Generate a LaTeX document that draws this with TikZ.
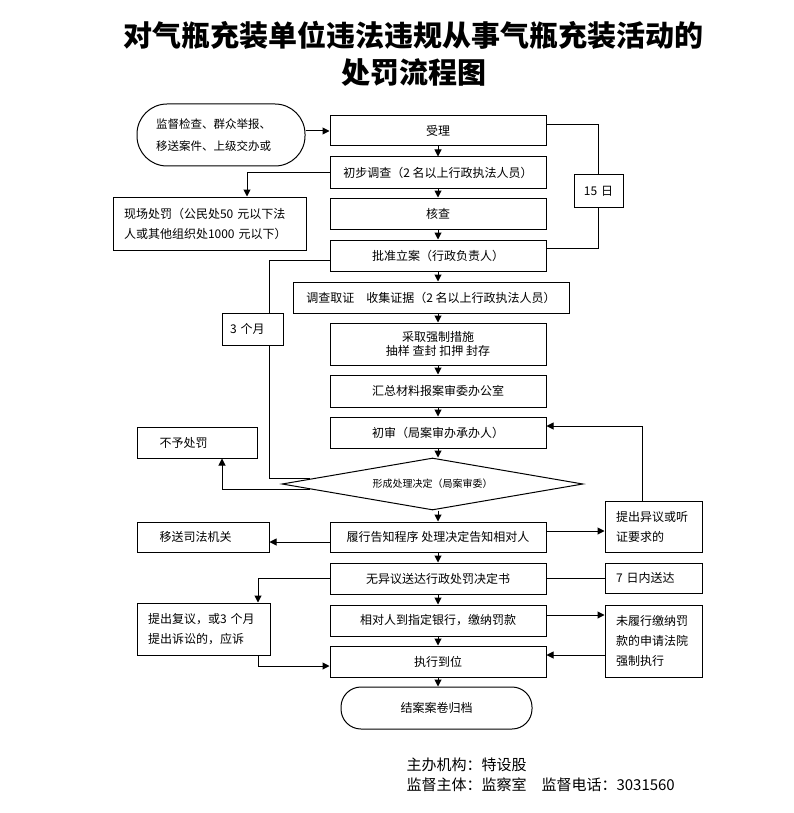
\documentclass[tikz,border=0pt]{standalone}
\usepackage{fontspec}
\setmainfont{Noto Sans CJK SC}
\usetikzlibrary{arrows.meta,shapes.geometric,calc}
\begin{document}
\begin{tikzpicture}[x=1pt,y=-1pt,
  every node/.style={font=\fontsize{12}{20}\selectfont},
  mbox/.style={draw, line width=1pt, minimum width=216pt, minimum height=31pt, inner sep=0pt, align=center},
  sbox/.style={draw, line width=1pt, inner ysep=0pt, align=left},
  link/.style={line width=1pt},
  arr/.style={line width=1pt, -{Triangle[length=7pt,width=7pt]}},
]
\fill[white] (0,0) rectangle (793,813);
\useasboundingbox (0,0) rectangle (793,813);

% title
\node[font=\fontsize{29}{37}\selectfont\bfseries, align=center] (title) at (413.5,53.5)
  {对气瓶充装单位违法违规从事气瓶充装活动的\\处罚流程图};

% main column
\node[mbox, minimum height=30pt] (acc) at (438,131) {受理};
\node[mbox] (init) at (438,172.5) {初步调查（2 名以上行政执法人员）};
\node[mbox] (check) at (438,213.5) {核查};
\node[mbox] (appr) at (438,255.5) {批准立案（行政负责人）};
\node[mbox, minimum width=276pt] (inv) at (431,297.5) {调查取证\quad 收集证据（2 名以上行政执法人员）};
\node[mbox, minimum height=42pt, font=\fontsize{12}{14}\selectfont] (force) at (438,344) {采取强制措施\\抽样 查封 扣押 封存};
\node[mbox, minimum height=32pt] (summ) at (438,391) {汇总材料报案审委办公室};
\node[mbox] (prelim) at (438,432.5) {初审（局案审办承办人）};
\node[draw, line width=1pt, diamond, shape aspect=5.8, minimum width=301pt, minimum height=52pt, inner sep=0pt, font=\fontsize{10}{12}\selectfont] (dia) at (432.5,484) {形成处理决定（局案审委）};
\node[mbox, minimum height=30pt] (notify) at (438,537) {履行告知程序 处理决定告知相对人};
\node[mbox] (deliver) at (438,578.5) {无异议送达行政处罚决定书};
\node[mbox] (pay) at (438,620.5) {相对人到指定银行，缴纳罚款};
\node[mbox] (exec) at (438,661.5) {执行到位};
\node[draw, line width=1pt, rounded corners=20pt, minimum width=191pt, minimum height=42pt] (end) at (436.5,708) {结案案卷归档};

% side nodes
\node[draw, line width=1pt, rounded corners=30pt, minimum width=168pt, minimum height=62pt, text width=130pt, align=left, font=\fontsize{11.5}{22}\selectfont] (start) at (221,135) {监督检查、群众举报、\\移送案件、上级交办或};
\node[sbox, minimum height=32pt, text width=49pt, inner xsep=0pt, align=center] (d15) at (598.5,191) {15 日};
\node[sbox, minimum height=53pt, text width=171pt, inner xsep=11pt] (onsite) at (209.5,223.5) {现场处罚（公民处50 元以下法\\人或其他组织处1000 元以下）};
\node[sbox, minimum height=32pt, text width=53pt, inner xsep=4pt] (m3) at (252.5,329) {\hspace{4pt}3 个月};
\node[sbox, minimum height=31pt, text width=97pt, inner xsep=11.5pt] (nopen) at (197,442.5) {\hspace{11pt}不予处罚};
\node[sbox, minimum height=30pt, text width=109pt, inner xsep=11.5pt] (transfer) at (203,537) {\hspace{11pt}移送司法机关};
\node[sbox, minimum height=51pt, text width=75pt, inner xsep=11pt] (objection) at (653.5,526.5) {提出异议或听\\证要求的};
\node[sbox, minimum height=30pt, text width=75pt, inner xsep=11pt] (d7) at (653.5,578) {7 日内送达};
\node[sbox, minimum height=52pt, text width=111pt, inner xsep=11pt] (review) at (203.5,629) {提出复议，或3 个月\\提出诉讼的，应诉};
\node[sbox, minimum height=72pt, text width=75pt, inner xsep=11pt] (unpaid) at (653.5,641) {未履行缴纳罚\\款的申请法院\\强制执行};

% main vertical arrows
\draw[arr] (acc.south) -- (init.north);
\draw[arr] (init.south) -- (check.north);
\draw[arr] (check.south) -- (appr.north);
\draw[arr] (appr.south) -- (appr.south |- inv.north);
\draw[arr] (force.north |- inv.south) -- (force.north);
\draw[arr] (force.south) -- (summ.north);
\draw[arr] (summ.south) -- (prelim.north);
\draw[arr] (prelim.south) -- (prelim.south |- dia.north);
\draw[arr] (notify.north |- dia.south) -- (notify.north);
\draw[arr] (notify.south) -- (deliver.north);
\draw[arr] (deliver.south) -- (pay.north);
\draw[arr] (pay.south) -- (exec.north);
\draw[arr] (exec.south) -- (exec.south |- end.north);

% start -> accept
\draw[arr] (start.east |- acc.west) -- (acc.west);

% 15 days loop
\draw[link] ([yshift=6pt]acc.east) -| (d15.north);
\draw[link] (d15.south) |- ([yshift=7.5pt]appr.east);

% on-site penalty
\draw[arr] (init.west) -| ([xshift=37.5pt]onsite.north);

% 3 months loop
\draw[link] ([yshift=-4.5pt]appr.west) -| ([xshift=16.5pt]m3.north);
\draw[link] ([xshift=16.5pt]m3.south) |- ($(dia.west)!0.19!(dia.north)$);

% no penalty
\draw[arr] ($(dia.west)!0.19!(dia.south)$) -| ([xshift=25pt]nopen.south);

% transfer
\draw[arr] ([yshift=-5pt]notify.west) -- ([yshift=-5pt]transfer.east);

% objection
\coordinate (n1) at ([yshift=6pt]notify.east);
\draw[arr] (n1) -- (n1 -| objection.west);
\coordinate (o1) at ([xshift=-11.5pt]objection.north);
\coordinate (p1) at ([yshift=6.5pt]prelim.east);
\draw[arr] (o1) |- (p1);

% deliver
\draw[arr] (deliver.west) -| ([xshift=54.5pt]review.north);
\draw[link] (deliver.east) -- (deliver.east -| d7.west);

% pay / unpaid
\coordinate (q1) at ([yshift=5.5pt]pay.east);
\draw[arr] (q1) -- (q1 -| unpaid.west);
\coordinate (u1) at ([yshift=-14pt]unpaid.west);
\draw[arr] (u1) -- (u1 -| exec.east);

% review -> exec
\coordinate (r1) at ([xshift=54.5pt]review.south);
\coordinate (r2) at ([yshift=-4.5pt]exec.west);
\draw[arr] (r1) |- (r2);

% footer
\node[anchor=west, align=left, font=\fontsize{15}{20}\selectfont] (footer) at (403,775)
  {主办机构：特设股\\监督主体：监察室\quad 监督电话：3031560};
\end{tikzpicture}
\end{document}
